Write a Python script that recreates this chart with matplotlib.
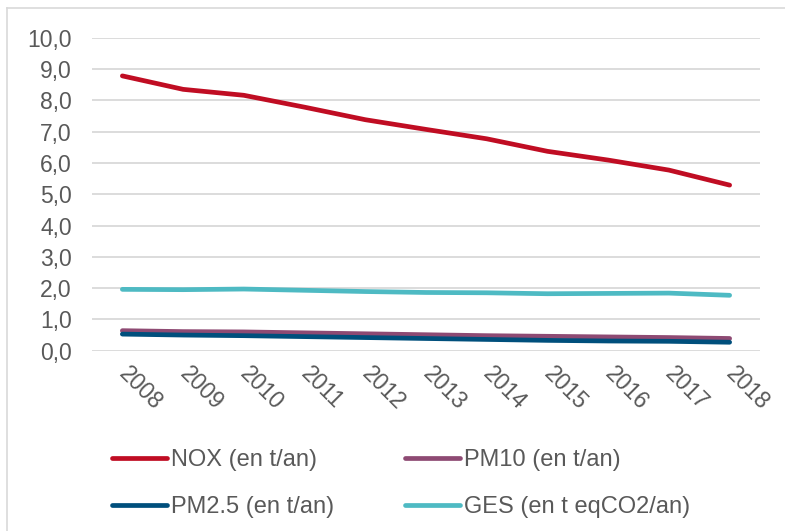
import matplotlib
matplotlib.use("Agg")
import matplotlib.pyplot as plt
from matplotlib.lines import Line2D

years = ["2008", "2009", "2010", "2011", "2012", "2013", "2014", "2015", "2016", "2017", "2018"]
nox = [8.78, 8.35, 8.16, 7.78, 7.38, 7.07, 6.77, 6.37, 6.09, 5.77, 5.29]
pm10 = [0.64, 0.61, 0.60, 0.57, 0.54, 0.51, 0.48, 0.46, 0.44, 0.42, 0.39]
pm25 = [0.53, 0.50, 0.48, 0.45, 0.42, 0.39, 0.36, 0.33, 0.31, 0.30, 0.27]
ges = [1.96, 1.95, 1.97, 1.93, 1.89, 1.86, 1.85, 1.82, 1.83, 1.84, 1.77]
labels = ["NOX (en t/an)", "PM10 (en t/an)", "PM2.5 (en t/an)", "GES (en t eqCO2/an)"]
colors = ["#C00D23", "#8E4A73", "#004F7C", "#4EBAC3"]
yticks = [0, 1, 2, 3, 4, 5, 6, 7, 8, 9, 10]

plt.rcParams['font.family'] = ['Liberation Sans', 'DejaVu Sans']
txt = "#595959"

W, H = 785, 531
fig = plt.figure(figsize=(W / 100, H / 100), dpi=100)
ax = fig.add_axes([92 / W, 1 - 350.7 / H, (760 - 92) / W, (350.7 - 37.7) / H])

x = list(range(len(years)))
lines = []
for vals, c, lab in zip([nox, pm10, pm25, ges], colors, labels):
    ln, = ax.plot(x, vals, color=c, lw=3.4, solid_capstyle='round',
                  solid_joinstyle='round', label=lab, zorder=3)
    lines.append(ln)

ax.set_xlim(-0.5, len(years) - 0.5)
ax.set_ylim(0, 10)
ax.set_yticks(yticks)
ax.set_yticklabels([f"{v:.1f}".replace(".", ",") for v in yticks])
ax.set_xticks(x)
ax.set_xticklabels(years, rotation=-45, rotation_mode='anchor', ha='left', va='center')
ax.tick_params(axis='y', length=0, pad=14.5, labelsize=16.5, labelcolor=txt)
ax.tick_params(axis='x', length=0, pad=14, labelsize=16.5, labelcolor=txt)
ax.grid(axis='y', color="#D9D9D9", lw=1.3, zorder=0)
ax.set_axisbelow(True)
for s in ax.spines.values():
    s.set_visible(False)

# outer chart border
fig.add_artist(Line2D([7 / W, 7 / W], [0, 1 - 8 / H], color="#D9D9D9", lw=1.2,
                      transform=fig.transFigure))
fig.add_artist(Line2D([7 / W, 1], [1 - 8 / H, 1 - 8 / H], color="#D9D9D9", lw=1.2,
                      transform=fig.transFigure))

handles = [lines[0], lines[2], lines[1], lines[3]]
hl = [labels[0], labels[2], labels[1], labels[3]]
leg = fig.legend(handles, hl, loc='center', bbox_to_anchor=(401 / W, 1 - 483.5 / H),
                 ncol=2, frameon=False, fontsize=17, handlelength=2.35,
                 handletextpad=0.15, columnspacing=3.0, labelspacing=1.05,
                 borderpad=0, borderaxespad=0)
for t in leg.get_texts():
    t.set_color(txt)

fig.savefig("out.png", dpi=100, facecolor="white")
